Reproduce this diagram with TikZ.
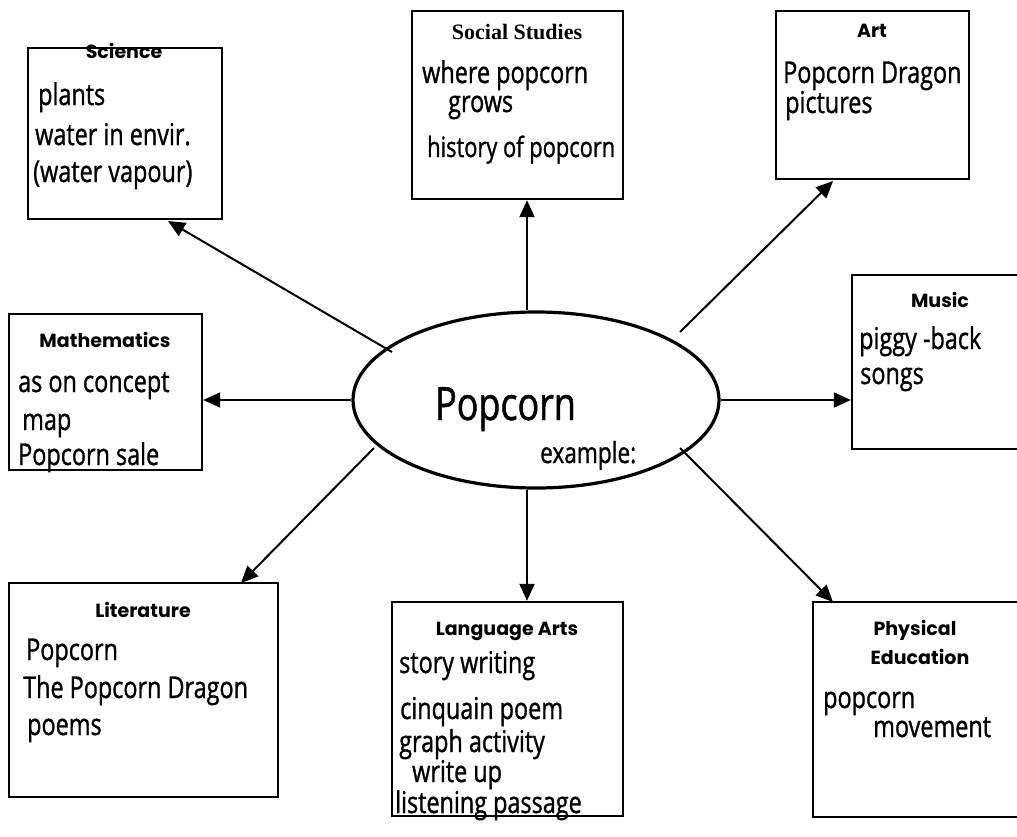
\documentclass[tikz,border=0pt]{standalone}
\usepackage{fontspec}
\usetikzlibrary{shapes.geometric,arrows.meta}
\newfontfamily\hand[FakeStretch=0.78,FakeBold=1]{Open Sans}
\newfontfamily\ttl{Poppins}
\newfontfamily\serifttl{Liberation Serif}
\begin{document}
\begin{tikzpicture}[x=1pt,y=-1pt,
  box/.style={draw,line width=2.4pt,rectangle,inner sep=0pt},
  hw/.style={font=\hand\fontsize{30}{32}\selectfont,inner sep=0pt,anchor=base west},
  ttlst/.style={font=\ttl\bfseries\fontsize{19}{22}\selectfont,inner sep=0pt,anchor=base},
  arr/.style={line width=2pt,-{Triangle[length=17pt,width=15pt]}}]
\useasboundingbox (0,0) rectangle (1017,836);
\fill[white] (0,0) rectangle (1017,836);
\clip (0,0) rectangle (1017,836);

% boxes
\node[box,minimum width=194pt,minimum height=171pt] (sci) at (125,133.5) {};
\node[box,minimum width=211pt,minimum height=188pt] (soc) at (517.5,105) {};
\node[box,minimum width=193pt,minimum height=168pt] (art) at (872.5,95) {};
\node[box,minimum width=193pt,minimum height=156pt] (math) at (105.5,392) {};
\node[box,minimum width=183pt,minimum height=174pt] (mus) at (943.5,362) {};
\node[box,minimum width=269pt,minimum height=214pt] (lit) at (143.5,690) {};
\node[box,minimum width=231pt,minimum height=214pt] (lang) at (507.5,709) {};
\node[box,minimum width=222pt,minimum height=215pt] (pe) at (924,709.5) {};

% central ellipse
\node[draw,ellipse,line width=3.2pt,inner sep=0pt,minimum width=366pt,minimum height=176pt] (pop) at (536,400) {};
\node[font=\hand\fontsize{46}{50}\selectfont,inner sep=0pt,anchor=base west] (popT) at (435,420) {Popcorn};
\node[font=\hand\fontsize{29}{31}\selectfont,inner sep=0pt,anchor=base west] (popE) at (540,463) {example:};

% titles
\node[ttlst] (sciT) at (124,58) {Science};
\node[font=\serifttl\bfseries\fontsize{22}{24}\selectfont,inner sep=0pt,anchor=base] (socT) at (517,39) {Social Studies};
\node[ttlst] (artT) at (872,37) {Art};
\node[ttlst] (mathT) at (105,347) {Mathematics};
\node[ttlst] (musT) at (940,307) {Music};
\node[ttlst] (litT) at (143,617) {Literature};
\node[ttlst] (langT) at (507,635) {Language Arts};
\node[ttlst] (peT1) at (915,635) {Physical};
\node[ttlst] (peT2) at (920,664) {Education};

% handwritten lines
\node[hw] (sci1) at (38,105) {plants};
\node[hw] (sci2) at (35,145) {water in envir.};
\node[hw] (sci3) at (33,182) {(water vapour)};

\node[hw] (soc1) at (422,83) {where popcorn};
\node[hw] (soc2) at (448,112) {grows};
\node[hw,font=\hand\fontsize{28}{30}\selectfont] (soc3) at (427,157) {history of popcorn};

\node[hw] (art1) at (783,83) {Popcorn Dragon};
\node[hw] (art2) at (785,113) {pictures};

\node[hw] (math1) at (18,392) {as on concept};
\node[hw] (math2) at (22,430) {map};
\node[hw] (math3) at (18,465) {Popcorn sale};

\node[hw] (mus1) at (859,349) {piggy -back};
\node[hw] (mus2) at (860,384) {songs};

\node[hw] (lit1) at (26,660) {Popcorn};
\node[hw] (lit2) at (23,698) {The Popcorn Dragon};
\node[hw] (lit3) at (27,735) {poems};

\node[hw] (lang1) at (399,673) {story writing};
\node[hw] (lang2) at (400,719) {cinquain poem};
\node[hw] (lang3) at (399,752) {graph activity};
\node[hw] (lang4) at (412,782) {write up};
\node[hw] (lang5) at (395,813) {listening passage};

\node[hw] (pe1) at (823,708) {popcorn};
\node[hw] (pe2) at (873,737) {movement};

% connector ends
\coordinate (sSci) at (392,352);
\coordinate (tSci) at (168,221);
\coordinate (sArt) at (680,332);
\coordinate (tArt) at (833,181);
\coordinate (sLit) at (374,448);
\coordinate (tLit) at (241,583);
\coordinate (sPe) at (680,448);
\coordinate (tPe) at (833,602);
\coordinate (sSoc) at ([xshift=-9pt]pop.north);
\coordinate (sLang) at ([xshift=-9pt]pop.south);
\coordinate (tSoc) at (soc.south -| sSoc);
\coordinate (tLang) at (lang.north -| sLang);
\coordinate (tMath) at (math.east |- pop.west);
\coordinate (tMus) at (mus.west |- pop.east);

\draw[arr] (sSci) -- (tSci);
\draw[arr] (sSoc) -- (tSoc);
\draw[arr] (sArt) -- (tArt);
\draw[arr] (pop.west) -- (tMath);
\draw[arr] (pop.east) -- (tMus);
\draw[arr] (sLit) -- (tLit);
\draw[arr] (sLang) -- (tLang);
\draw[arr] (sPe) -- (tPe);
\end{tikzpicture}
\end{document}
